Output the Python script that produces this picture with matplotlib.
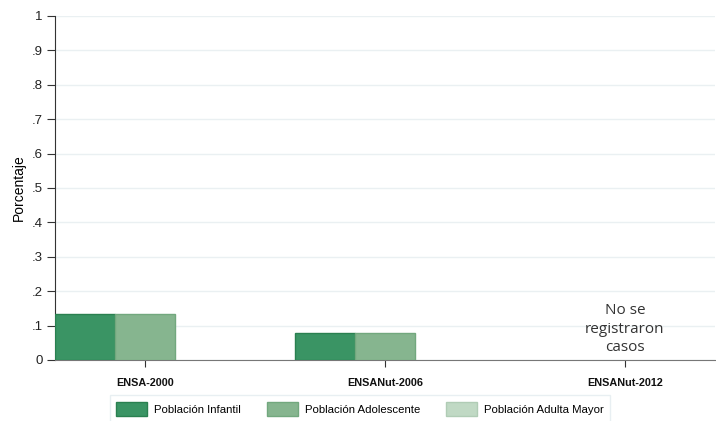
# Bar chart: porcentaje por encuesta y grupo de población

import numpy as np
import matplotlib.pyplot as plt
from matplotlib.patches import Patch

encuestas = ['ENSA-2000', 'ENSANut-2006', 'ENSANut-2012']
grupos = ['Población Infantil', 'Población Adolescente', 'Población Adulta Mayor']
infantil = [0.134, 0.078, 0.0]
adolescente = [0.134, 0.078, 0.0]
adulta_mayor = [0.0, 0.0, 0.0]
yticks = [0, 0.1, 0.2, 0.3, 0.4, 0.5, 0.6, 0.7, 0.8, 0.9, 1]
ytick_labels = ['0', '.1', '.2', '.3', '.4', '.5', '.6', '.7', '.8', '.9', '1']
nota = 'No se\nregistraron\ncasos'

colors = ['#3a9464', '#86b58f', '#c0d9c4']
edges = ['#2a8050', '#72a87e', '#b0ccb5']

plt.rcParams['font.family'] = ['Liberation Sans', 'DejaVu Sans']

fig = plt.figure(figsize=(7.16, 4.21), dpi=100)
ax = fig.add_axes([55 / 716, 1 - 360 / 421, 660 / 716, 344 / 421])

x = np.arange(len(encuestas))
width = 0.25
series = [infantil, adolescente, adulta_mayor]
for i, vals in enumerate(series):
    lw = [1 if v > 0 else 0 for v in vals]
    ax.bar(x + (i - 1) * width, vals, width, color=colors[i],
           edgecolor=edges[i], linewidth=lw, zorder=3)

ax.set_xlim(-0.375, 2.375)
ax.set_ylim(0, 1)
ax.set_yticks(yticks)
ax.set_yticklabels(ytick_labels, fontsize=9.5, color='#222222')
ax.set_xticks(x)
ax.set_xticklabels(encuestas, fontsize=7.8, fontweight='bold', color='#111111')
ax.tick_params(axis='y', length=6, width=0.8, color='#333333', pad=3)
ax.tick_params(axis='x', length=5, width=0.8, color='#333333', pad=8)
ax.grid(axis='y', color='#eaf0f2', linewidth=1, zorder=0)
ax.spines['top'].set_visible(False)
ax.spines['right'].set_visible(False)
ax.spines['left'].set_color('#333333')
ax.spines['bottom'].set_color('#777777')
ax.set_ylabel('Porcentaje', fontsize=10, labelpad=4)

ax.text(2, 0.015, nota, ha='center', va='bottom', fontsize=11,
        family='Open Sans', color='#333333', linespacing=1.3, zorder=4)

handles = [Patch(facecolor=colors[i], edgecolor=edges[i]) for i in range(3)]
leg = fig.legend(handles, grupos, loc='upper center', ncol=3,
                 bbox_to_anchor=(360 / 716, 1 - 395 / 421), fontsize=8.2,
                 frameon=True, fancybox=False, handlelength=2.7,
                 handleheight=1.5, handletextpad=0.6, columnspacing=2.3,
                 borderpad=0.6, borderaxespad=0)
leg.get_frame().set_edgecolor('#e3ecef')
leg.get_frame().set_linewidth(1)

fig.savefig('out.png', dpi=100)
